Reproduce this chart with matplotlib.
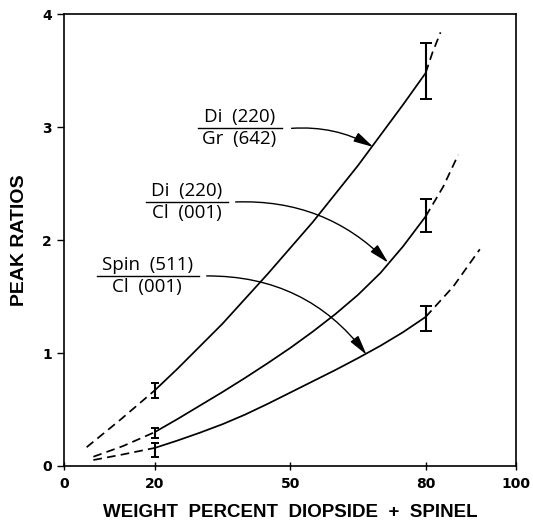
import matplotlib
matplotlib.use("Agg")
import matplotlib.pyplot as plt
import numpy as np

# solid parts of the three curves
x_solid = [20, 25, 30, 35, 40, 45, 50, 55, 60, 65, 70, 75, 80]
gr_solid = [0.67, 0.86, 1.06, 1.26, 1.48, 1.70, 1.93, 2.16, 2.41, 2.66, 2.93, 3.20, 3.48]
di_solid = [0.30, 0.415, 0.535, 0.655, 0.78, 0.91, 1.045, 1.19, 1.345, 1.515, 1.71, 1.945, 2.21]
sp_solid = [0.16, 0.225, 0.295, 0.37, 0.455, 0.55, 0.65, 0.75, 0.85, 0.955, 1.065, 1.185, 1.32]

# dashed extrapolations, low end
gr_low_x = [4.9, 12.3, 20]
gr_low_y = [0.166, 0.407, 0.67]
di_low_x = [6.4, 13.0, 20]
di_low_y = [0.082, 0.177, 0.30]
sp_low_x = [6.4, 13.0, 20]
sp_low_y = [0.053, 0.103, 0.16]

# dashed extrapolations, high end
gr_high_x = [80, 81.5, 83.3]
gr_high_y = [3.48, 3.66, 3.84]
di_high_x = [80, 83.9, 87.2]
di_high_y = [2.21, 2.474, 2.755]
sp_high_x = [80, 86.1, 92.0]
sp_high_y = [1.32, 1.588, 1.919]

# error bars (lower, upper) at 20 and 80 wt%
err_x = [20, 80]
gr_lo = [0.605, 3.248]
gr_hi = [0.732, 3.744]
di_lo = [0.245, 2.07]
di_hi = [0.339, 2.365]
sp_lo = [0.077, 1.196]
sp_hi = [0.206, 1.42]

x_ticks = [0, 20, 50, 80, 100]
y_ticks = [0, 1, 2, 3, 4]

fig = plt.figure(figsize=(5.33, 5.23), dpi=100)
ax = fig.add_axes([0.121, 0.109, 0.847, 0.8637])

lw = 1.25
for xs, ys in [(x_solid, gr_solid), (x_solid, di_solid), (x_solid, sp_solid)]:
    ax.plot(xs, ys, color="black", lw=lw, solid_capstyle="round",
            solid_joinstyle="round")

for xs, ys in [(gr_low_x, gr_low_y), (di_low_x, di_low_y), (sp_low_x, sp_low_y),
               (gr_high_x, gr_high_y), (di_high_x, di_high_y), (sp_high_x, sp_high_y)]:
    ax.plot(xs, ys, color="black", lw=lw, dashes=(5, 3))

# error bars: small caps at 20, wider caps at 80
for lo, hi in [(gr_lo, gr_hi), (di_lo, di_hi), (sp_lo, sp_hi)]:
    lo = np.array(lo)
    hi = np.array(hi)
    mid = (lo + hi) / 2
    half = (hi - lo) / 2
    for i, cap in enumerate([3, 4]):
        ax.errorbar([err_x[i]], [mid[i]], yerr=[half[i]], fmt="none",
                    ecolor="black", elinewidth=1.5, capsize=cap, capthick=1.4)

# fraction labels with arrows
label_font = "Open Sans"
fs = 13.5
labels = [
    ("Di  (220)", "Gr  (642)", 38.7, 29.6, 48.1, 2.99, (50.3, 2.99), (68.4, 2.825), -0.15),
    ("Di  (220)", "Cl  (001)", 27.0, 18.0, 36.2, 2.338, (37.9, 2.338), (71.7, 1.80), -0.22),
    ("Spin  (511)", "Cl  (001)", 18.3, 7.1, 29.7, 1.683, (31.5, 1.683), (66.9, 0.985), -0.25),
]
for num, den, xc, x0, x1, yl, start, tip, rad in labels:
    ax.plot([x0, x1], [yl, yl], color="black", lw=1.0)
    ax.text(xc, yl + 0.1, num, ha="center", va="center", fontsize=fs,
            family=label_font)
    ax.text(xc, yl - 0.095, den, ha="center", va="center", fontsize=fs,
            family=label_font)
    ax.annotate("", xy=tip, xytext=start,
                arrowprops=dict(arrowstyle="-|>,head_length=1.0,head_width=0.25",
                                connectionstyle="arc3,rad=%s" % rad,
                                color="black", lw=1.0, mutation_scale=12,
                                shrinkA=0, shrinkB=0))

ax.set_xlim(0, 100)
ax.set_ylim(0, 4)
ax.set_xticks(x_ticks)
ax.set_yticks(y_ticks)
ax.set_xticklabels([str(t) for t in x_ticks], fontsize=10, fontweight="bold",
                   family="DejaVu Sans")
ax.set_yticklabels([str(t) for t in y_ticks], fontsize=10, fontweight="bold",
                   family="DejaVu Sans")
ax.tick_params(axis="x", direction="inout", length=6, width=1.0, pad=5)
ax.tick_params(axis="y", direction="out", length=5, width=1.0, pad=4)
for s in ax.spines.values():
    s.set_linewidth(1.2)

ax.set_xlabel("WEIGHT  PERCENT  DIOPSIDE  +  SPINEL", fontsize=13.5,
              fontweight="bold", family="Liberation Sans", va="center")
ax.set_ylabel("PEAK RATIOS", fontsize=14, fontweight="bold",
              family="Liberation Sans", va="center")
ax.xaxis.set_label_coords(0.5, -0.104)
ax.yaxis.set_label_coords(-0.099, 0.5)

fig.savefig("out.png", dpi=100)
